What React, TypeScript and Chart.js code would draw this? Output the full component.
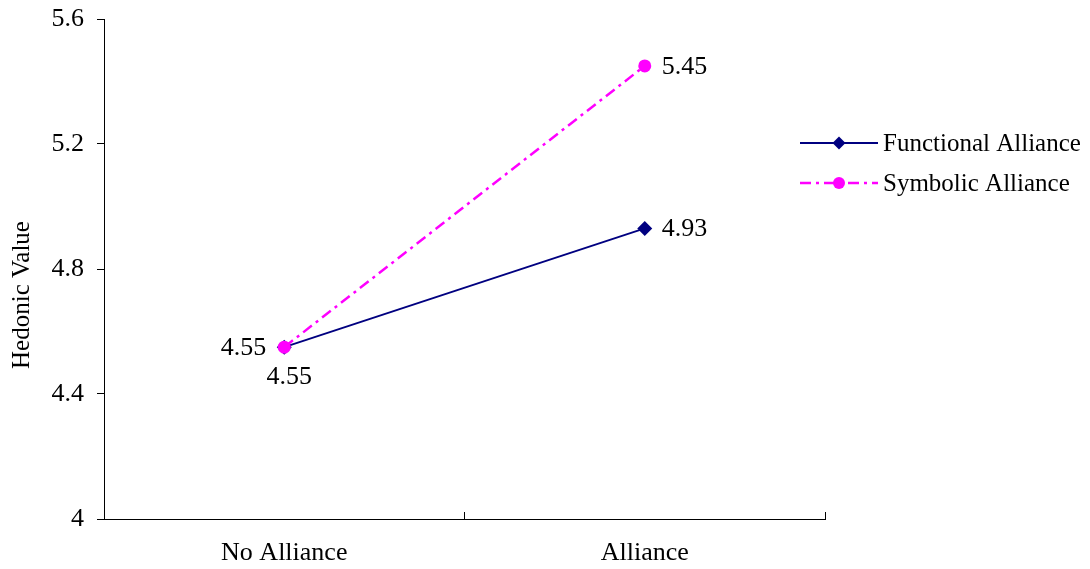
import React, { useEffect, useRef } from "react";
import { Chart, registerables } from "chart.js";

Chart.register(...registerables);

const categories = ["No Alliance", "Alliance"];
const functionalValues = [4.55, 4.93];
const symbolicValues = [4.55, 5.45];
const yTicks = [4, 4.4, 4.8, 5.2, 5.6];
const seriesNames = ["Functional Alliance", "Symbolic Alliance"];
const yTitle = "Hedonic Value";
const functionalLabelPlace = ["below", "right"];
const symbolicLabelPlace = ["left", "right"];

const FONT = "'Liberation Serif', 'Times New Roman', serif";
const NAVY = "#000080";
const MAGENTA = "#FF00FF";
const SYM_DASH = [11, 5, 3, 5];

const valueLabelPlugin = {
  id: "valueLabels",
  afterDatasetsDraw(chart: any) {
    const ctx = chart.ctx;
    ctx.save();
    ctx.font = `26px ${FONT}`;
    ctx.fillStyle = "#000";
    ctx.textBaseline = "middle";
    chart.data.datasets.forEach((ds: any, di: number) => {
      const meta = chart.getDatasetMeta(di);
      meta.data.forEach((pt: any, i: number) => {
        const txt = Number(ds.data[i]).toFixed(2);
        const place = ds.labelPlace[i];
        if (place === "right") {
          ctx.textAlign = "left";
          ctx.fillText(txt, pt.x + 17, pt.y + 1);
        } else if (place === "left") {
          ctx.textAlign = "right";
          ctx.fillText(txt, pt.x - 18, pt.y + 1);
        } else {
          ctx.textAlign = "center";
          ctx.fillText(txt, pt.x + 5, pt.y + 30);
        }
      });
    });
    ctx.restore();
  },
};

const legendTitlePlugin = {
  id: "legendTitle",
  afterDraw(chart: any) {
    const ctx = chart.ctx;
    ctx.save();
    // y-axis title
    ctx.translate(22, 295);
    ctx.rotate(-Math.PI / 2);
    ctx.font = `25px ${FONT}`;
    ctx.fillStyle = "#000";
    ctx.textAlign = "center";
    ctx.textBaseline = "middle";
    ctx.fillText(yTitle, 0, 0);
    ctx.restore();

    // legend
    const items = chart.data.datasets;
    const x0 = 800, x1 = 878, mx = 839;
    const rows = [143, 183];
    items.forEach((ds: any) => {
      const idx = ds.legendIndex;
      const y = rows[idx];
      ctx.save();
      ctx.strokeStyle = ds.borderColor;
      ctx.lineWidth = ds.borderWidth;
      ctx.setLineDash(ds.borderDash || []);
      ctx.beginPath();
      ctx.moveTo(x0, y);
      ctx.lineTo(x1, y);
      ctx.stroke();
      ctx.setLineDash([]);
      ctx.fillStyle = ds.pointBackgroundColor;
      ctx.beginPath();
      if (ds.pointStyle === "rectRot") {
        const r = 6.5;
        ctx.moveTo(mx, y - r);
        ctx.lineTo(mx + r, y);
        ctx.lineTo(mx, y + r);
        ctx.lineTo(mx - r, y);
        ctx.closePath();
      } else {
        ctx.arc(mx, y, 6, 0, Math.PI * 2);
      }
      ctx.fill();
      ctx.font = `25px ${FONT}`;
      ctx.fillStyle = "#000";
      ctx.textAlign = "left";
      ctx.textBaseline = "middle";
      ctx.fillText(seriesNames[idx], 883, y + 1);
      ctx.restore();
    });
  },
};

export default function App() {
  const ref = useRef<HTMLCanvasElement | null>(null);

  useEffect(() => {
    if (!ref.current) return;
    const chart = new Chart(ref.current, {
      type: "line",
      data: {
        labels: categories,
        datasets: [
          {
            label: seriesNames[1],
            data: symbolicValues,
            borderColor: MAGENTA,
            backgroundColor: MAGENTA,
            borderWidth: 2.5,
            borderDash: SYM_DASH,
            pointStyle: "circle",
            pointRadius: 6.5,
            pointBackgroundColor: MAGENTA,
            pointBorderColor: MAGENTA,
            pointBorderWidth: 0,
            tension: 0,
            fill: false,
            labelPlace: symbolicLabelPlace,
            legendIndex: 1,
          } as any,
          {
            label: seriesNames[0],
            data: functionalValues,
            borderColor: NAVY,
            backgroundColor: NAVY,
            borderWidth: 1.8,
            pointStyle: "rectRot",
            pointRadius: 7.5,
            pointBackgroundColor: NAVY,
            pointBorderColor: NAVY,
            pointBorderWidth: 0,
            tension: 0,
            fill: false,
            labelPlace: functionalLabelPlace,
            legendIndex: 0,
          } as any,
        ],
      },
      options: {
        responsive: false,
        animation: false,
        devicePixelRatio: 1,
        layout: { padding: { top: 19, right: 265, left: 0, bottom: 0 } },
        plugins: {
          legend: { display: false },
          tooltip: { enabled: false },
          title: { display: false },
        },
        scales: {
          x: {
            type: "category",
            offset: true,
            grid: {
              offset: true,
              drawOnChartArea: false,
              drawTicks: true,
              tickLength: -7,
              color: "#000",
              lineWidth: 1,
            },
            border: { display: true, color: "#000", width: 1 },
            ticks: {
              font: { family: FONT, size: 26 },
              color: "#000",
              padding: 26,
              maxRotation: 0,
            },
            afterFit: (s: any) => {
              s.height = 50;
              s.paddingLeft = 0;
              s.paddingRight = 0;
            },
          },
          y: {
            type: "linear",
            min: 4,
            max: 5.6,
            grid: {
              drawOnChartArea: false,
              drawTicks: true,
              tickLength: 7,
              color: "#000",
              lineWidth: 1,
            },
            border: { display: true, color: "#000", width: 1 },
            ticks: {
              font: { family: FONT, size: 26 },
              color: "#000",
              padding: 13,
              callback: (v: any) => String(v),
            },
            afterBuildTicks: (s: any) => {
              s.ticks = yTicks.map((v) => ({ value: v }));
            },
            afterFit: (s: any) => {
              s.width = 104;
              s.paddingTop = 0;
              s.paddingBottom = 0;
            },
          },
        },
      } as any,
      plugins: [valueLabelPlugin, legendTitlePlugin],
    });
    return () => chart.destroy();
  }, []);

  return (
    <div style={{ position: "fixed", left: 0, top: 0, width: 1090, height: 569, background: "#fff" }}>
      <canvas ref={ref} width={1090} height={569} style={{ width: 1090, height: 569 }} />
    </div>
  );
}
